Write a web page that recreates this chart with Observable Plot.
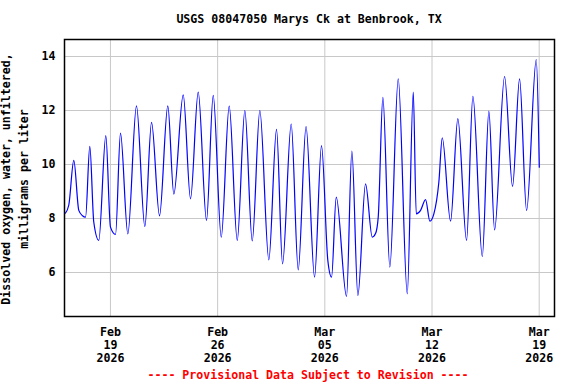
<!DOCTYPE html>
<html>
<head>
<meta charset="utf-8">
<script src="https://cdn.jsdelivr.net/npm/d3@7"></script>
<script src="https://cdn.jsdelivr.net/npm/@observablehq/plot@0.6"></script>
<style>
  html, body { margin: 0; padding: 0; background: white; }
</style>
</head>
<body>
<div id="chart"></div>
<script>
const title = "USGS 08047050 Marys Ck at Benbrook, TX";
const yLabelLines = ["Dissolved oxygen, water, unfiltered,", "milligrams per liter"];
const caption = "---- Provisional Data Subject to Revision ----";

const times = [
  "2026-02-16T01:30", "2026-02-16T06:45", "2026-02-16T14:35", "2026-02-16T22:25",
  "2026-02-17T04:15", "2026-02-17T09:00", "2026-02-17T15:40", "2026-02-17T21:55",
  "2026-02-18T05:45", "2026-02-18T16:45",
  "2026-02-19T00:05", "2026-02-19T08:00", "2026-02-19T15:45",
  "2026-02-20T03:15", "2026-02-20T16:50",
  "2026-02-21T05:55", "2026-02-21T16:25",
  "2026-02-22T04:55", "2026-02-22T17:55",
  "2026-02-23T03:20", "2026-02-23T18:05",
  "2026-02-24T05:30", "2026-02-24T17:35",
  "2026-02-25T06:35", "2026-02-25T17:05",
  "2026-02-26T05:40", "2026-02-26T18:10",
  "2026-02-27T06:45", "2026-02-27T18:40",
  "2026-02-28T06:15", "2026-02-28T18:10",
  "2026-03-01T08:15", "2026-03-01T20:20",
  "2026-03-02T05:45", "2026-03-02T19:20",
  "2026-03-03T06:20", "2026-03-03T18:35",
  "2026-03-04T07:55", "2026-03-04T18:50",
  "2026-03-05T04:45", "2026-03-05T10:35", "2026-03-05T17:55",
  "2026-03-06T10:05", "2026-03-06T18:25",
  "2026-03-07T03:50", "2026-03-07T15:50",
  "2026-03-08T02:20", "2026-03-08T07:30", "2026-03-08T11:45", "2026-03-08T19:00",
  "2026-03-09T05:55", "2026-03-09T19:05",
  "2026-03-10T09:15", "2026-03-10T18:40", "2026-03-10T23:20",
  "2026-03-11T06:05", "2026-03-11T13:55", "2026-03-11T20:40",
  "2026-03-12T02:55", "2026-03-12T10:45", "2026-03-12T16:05",
  "2026-03-13T05:05", "2026-03-13T16:30",
  "2026-03-14T06:10", "2026-03-14T16:05",
  "2026-03-15T06:50", "2026-03-15T17:10",
  "2026-03-16T02:05", "2026-03-16T17:45",
  "2026-03-17T06:15", "2026-03-17T17:15",
  "2026-03-18T04:15", "2026-03-18T19:25",
  "2026-03-19T00:10"
];

const oxygen = [
  8.2, 8.5, 10.15, 8.3,
  8.1, 8.05, 10.67, 7.86,
  7.19, 11.07,
  7.68, 7.41, 11.16,
  7.43, 12.17,
  7.7, 11.56,
  8.1, 12.17,
  8.9, 12.58,
  8.73, 12.68,
  7.93, 12.56,
  7.31, 12.16,
  7.19, 12.0,
  7.17, 12.0,
  6.47, 11.3,
  6.32, 11.5,
  6.1, 11.4,
  5.83, 10.7,
  6.44, 5.83, 8.79,
  5.11, 10.5,
  5.15, 9.28,
  7.31, 7.44, 8.06, 12.49,
  6.2, 13.17,
  5.21, 12.68, 8.17,
  8.3, 8.7, 7.9,
  8.17, 9.35, 10.99,
  7.9, 11.7,
  7.19, 12.52,
  6.59, 11.98,
  7.58, 13.26,
  9.19, 13.17,
  8.3, 13.89,
  9.9
];

const xDomain = ["2026-02-16T00:00", "2026-03-20T00:00"];
const tickDates = ["2026-02-19", "2026-02-26", "2026-03-05", "2026-03-12", "2026-03-19"];
const tickLabels = ["Feb\n19\n2026", "Feb\n26\n2026", "Mar\n05\n2026", "Mar\n12\n2026", "Mar\n19\n2026"];
const yTicks = [6, 8, 10, 12, 14];
const yDomain = [4.37, 14.63];

const utc = s => new Date(s + (s.length > 10 ? ":00Z" : "T00:00:00Z"));
const data = times.map((t, i) => ({t: utc(t), v: oxygen[i]}));
const ticks = tickDates.map(utc);
const labelFor = d => tickLabels[ticks.findIndex(t => +t === +d)];

const font = "'DejaVu Sans Mono', monospace";

const svg = Plot.plot({
  width: 576,
  height: 384,
  marginLeft: 64,
  marginRight: 22,
  marginTop: 39,
  marginBottom: 68,
  style: {fontFamily: font, fontSize: "11.6px", fontWeight: "bold", color: "black", background: "white"},
  x: {type: "utc", domain: xDomain.map(utc)},
  y: {domain: yDomain},
  marks: [
    Plot.gridX(ticks, {stroke: "#c8c8c8", strokeOpacity: 1, strokeWidth: 1}),
    Plot.gridY(yTicks, {stroke: "#c8c8c8", strokeOpacity: 1, strokeWidth: 1}),
    Plot.axisX(ticks, {tickFormat: labelFor, tickSize: 0, tickPadding: 10, lineHeight: 1.12, label: null, fill: "black"}),
    Plot.axisY(yTicks, {tickSize: 0, tickPadding: 9, label: null, fill: "black"}),
    Plot.line(data, {x: "t", y: "v", stroke: "#0000ff", strokeWidth: 1.2, curve: "monotone-x"}),
    Plot.frame({stroke: "black", strokeWidth: 1.5})
  ]
});

const s = d3.select(svg);
s.append("text")
  .attr("x", 309).attr("y", 23)
  .attr("text-anchor", "middle")
  .attr("font-family", font).attr("font-size", "11.6px").attr("font-weight", "bold")
  .attr("fill", "black")
  .text(title);

const yl = s.append("g").attr("transform", "translate(0,179) rotate(-90)");
yl.append("text").attr("x", 0).attr("y", 10).attr("text-anchor", "middle")
  .attr("font-family", font).attr("font-size", "11.6px").attr("font-weight", "bold")
  .attr("fill", "black").text(yLabelLines[0]);
yl.append("text").attr("x", 0).attr("y", 27.5).attr("text-anchor", "middle")
  .attr("font-family", font).attr("font-size", "11.6px").attr("font-weight", "bold")
  .attr("fill", "black").text(yLabelLines[1]);

s.append("text")
  .attr("x", 308).attr("y", 379)
  .attr("text-anchor", "middle")
  .attr("font-family", font).attr("font-size", "11.6px").attr("font-weight", "bold")
  .attr("fill", "red")
  .text(caption);

document.getElementById("chart").appendChild(svg);
</script>
</body>
</html>
